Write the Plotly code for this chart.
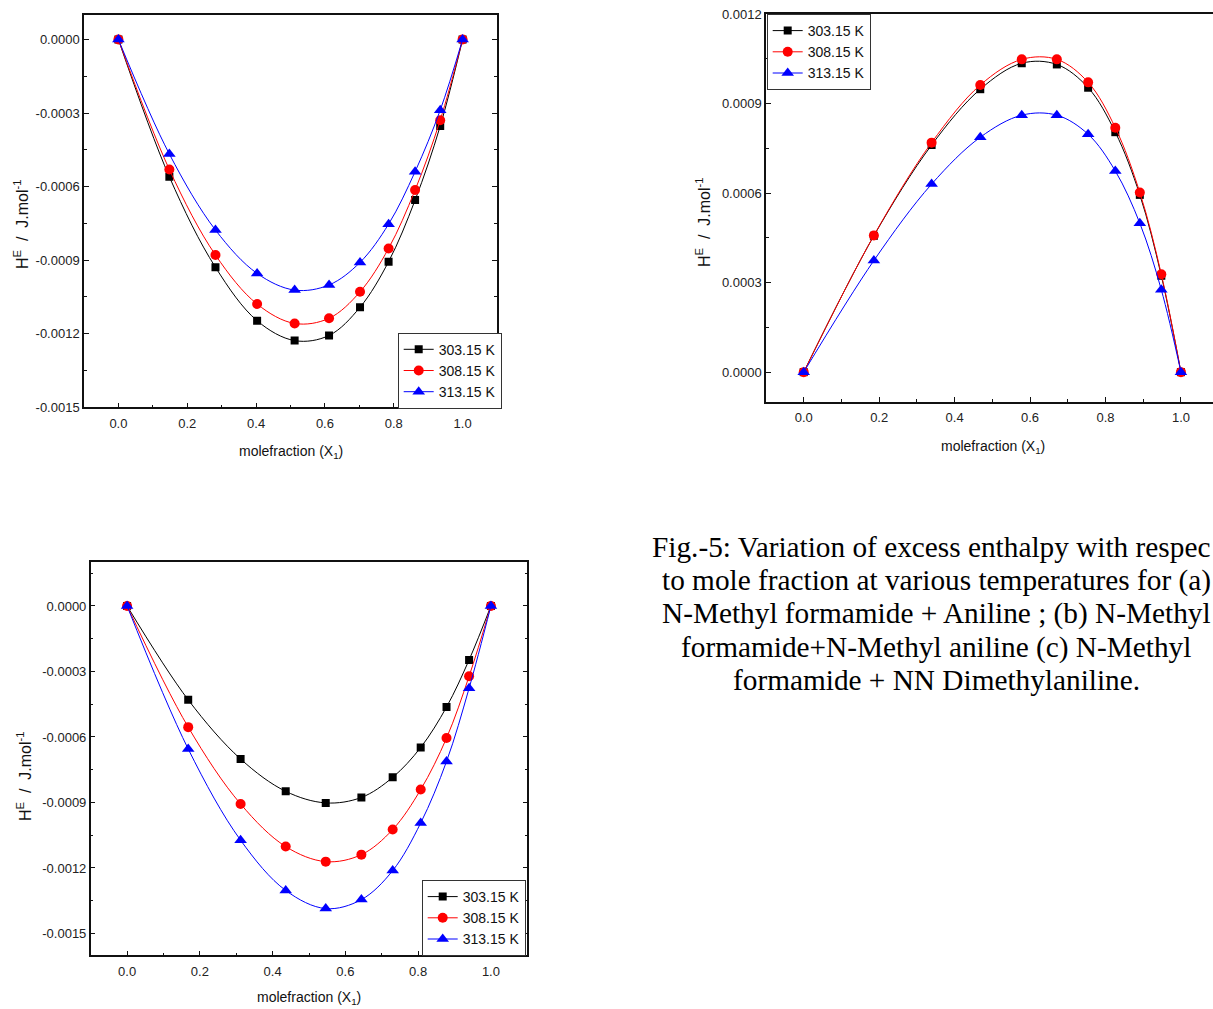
import plotly.graph_objects as go

W, H = 1213, 1009

series_names = ["303.15 K", "308.15 K", "313.15 K"]
series_colors = ["#000000", "#FF0000", "#0000FF"]
series_symbols = ["square", "circle", "triangle-up"]
series_sizes = [8, 10, 11]

# (a) N-Methyl formamide + Aniline
xa = [0.0, 0.148, 0.282, 0.403, 0.512, 0.612, 0.702, 0.785, 0.862, 0.935, 1.0]
ha_303 = [0.0, -0.000560, -0.000929, -0.001147, -0.001228, -0.001207, -0.001092, -0.000906, -0.000655, -0.000353, 0.0]
ha_308 = [0.0, -0.000530, -0.000879, -0.001079, -0.001158, -0.001137, -0.001029, -0.000852, -0.000614, -0.000329, 0.0]
ha_313 = [0.0, -0.000467, -0.000777, -0.000954, -0.001022, -0.001001, -0.000909, -0.000753, -0.000539, -0.000288, 0.0]

# (b) N-Methyl formamide + N-Methyl aniline
xb = [0.0, 0.186, 0.339, 0.468, 0.578, 0.671, 0.754, 0.826, 0.891, 0.948, 1.0]
hb_303 = [0.0, 0.000457, 0.000761, 0.000948, 0.001035, 0.001031, 0.000953, 0.000804, 0.000594, 0.000323, 0.0]
hb_308 = [0.0, 0.000458, 0.000769, 0.000962, 0.001048, 0.001048, 0.000971, 0.000819, 0.000602, 0.000328, 0.0]
hb_313 = [0.0, 0.000374, 0.000630, 0.000787, 0.000861, 0.000861, 0.000797, 0.000674, 0.000499, 0.000276, 0.0]

# (c) N-Methyl formamide + NN Dimethylaniline
xc = [0.0, 0.168, 0.312, 0.436, 0.546, 0.644, 0.730, 0.807, 0.878, 0.940, 1.0]
hc_303 = [0.0, -0.000430, -0.000701, -0.000849, -0.000902, -0.000877, -0.000785, -0.000648, -0.000463, -0.000247, 0.0]
hc_308 = [0.0, -0.000555, -0.000907, -0.001102, -0.001171, -0.001139, -0.001024, -0.000841, -0.000605, -0.000322, 0.0]
hc_313 = [0.0, -0.000655, -0.001073, -0.001303, -0.001386, -0.001345, -0.001212, -0.000994, -0.000712, -0.000377, 0.0]

x_tickvals = [0.0, 0.2, 0.4, 0.6, 0.8, 1.0]
x_ticktext = ["0.0", "0.2", "0.4", "0.6", "0.8", "1.0"]
ya_tickvals = [0.0, -0.0003, -0.0006, -0.0009, -0.0012, -0.0015]
ya_ticktext = ["0.0000", "-0.0003", "-0.0006", "-0.0009", "-0.0012", "-0.0015"]
yb_tickvals = [0.0, 0.0003, 0.0006, 0.0009, 0.0012]
yb_ticktext = ["0.0000", "0.0003", "0.0006", "0.0009", "0.0012"]
yc_tickvals = ya_tickvals
yc_ticktext = ya_ticktext

caption_lines = [
    "Fig.-5: Variation of excess enthalpy with respec",
    "to mole fraction at various temperatures for (a)",
    "N-Methyl formamide + Aniline ; (b) N-Methyl",
    "formamide+N-Methyl aniline (c) N-Methyl",
    "formamide + NN Dimethylaniline.",
]
x_title = "molefraction (X<sub>1</sub>)"
y_title = "H<sup>E</sup>&nbsp; /&nbsp; J.mol<sup>-1</sup>"

SANS = "Arial, 'Liberation Sans', sans-serif"
SERIF = "'Times New Roman', 'Liberation Serif', serif"


def px(x):
    return x / W


def py(y):
    return 1 - y / H


fig = go.Figure()

panels = [
    (xa, [ha_303, ha_308, ha_313], "x", "y", "legend"),
    (xb, [hb_303, hb_308, hb_313], "x2", "y2", "legend2"),
    (xc, [hc_303, hc_308, hc_313], "x3", "y3", "legend3"),
]
for xs, ys_list, xr, yr, lg in panels:
    for name, col, sym, sz, ys in zip(series_names, series_colors, series_symbols, series_sizes, ys_list):
        fig.add_trace(go.Scatter(
            x=xs, y=ys, name=name, mode="lines+markers",
            xaxis=xr, yaxis=yr, legend=lg,
            line=dict(color=col, width=1, shape="spline", smoothing=1.0),
            marker=dict(symbol=sym, size=sz, color=col),
        ))

axis_common = dict(
    showgrid=False, zeroline=False, showline=True, linecolor="#111", linewidth=1.5,
    ticks="inside", ticklen=5, tickwidth=1, tickcolor="#111",
    tickfont=dict(family=SANS, size=13, color="#222"),
    tickmode="array", automargin=False,
)
xminor = dict(dtick=0.1, tick0=0, ticks="inside", ticklen=3, tickcolor="#111")
yminor = dict(dtick=0.00015, tick0=0, ticks="inside", ticklen=3, tickcolor="#111")

fig.update_layout(
    width=W, height=H,
    margin=dict(l=0, r=0, t=0, b=0, autoexpand=False),
    paper_bgcolor="white", plot_bgcolor="white",
    showlegend=True,
    xaxis=dict(axis_common, domain=[px(84), px(497)], range=[-0.1, 1.1], anchor="y",
               tickvals=x_tickvals, ticktext=x_ticktext, mirror=True, ticklabelstandoff=3,
               minor=xminor),
    yaxis=dict(axis_common, domain=[py(407.3), py(15)], range=[-0.0015, 0.0001], anchor="x",
               tickvals=ya_tickvals, ticktext=ya_ticktext, mirror="ticks", minor=yminor),
    xaxis2=dict(axis_common, domain=[px(766), 1.0], range=[-0.1, 1.085], anchor="y2",
                tickvals=x_tickvals, ticktext=x_ticktext, mirror=True, ticklabelstandoff=3,
                minor=xminor),
    yaxis2=dict(axis_common, domain=[py(402), py(14)], range=[-0.0001, 0.0012], anchor="x2",
                tickvals=yb_tickvals, ticktext=yb_ticktext, mirror=False, minor=yminor),
    xaxis3=dict(axis_common, domain=[px(90.7), px(527.3)], range=[-0.1, 1.1], anchor="y3",
                tickvals=x_tickvals, ticktext=x_ticktext, mirror=True, ticklabelstandoff=3,
                minor=xminor),
    yaxis3=dict(axis_common, domain=[py(955.3), py(562.3)], range=[-0.0016, 0.0002], anchor="x3",
                tickvals=yc_tickvals, ticktext=yc_ticktext, mirror="ticks", minor=yminor),
)

legend_common = dict(
    xanchor="left", yanchor="top", bgcolor="white", bordercolor="#333", borderwidth=1,
    font=dict(family=SANS, size=14, color="#111"), tracegroupgap=0, itemwidth=30,
)
fig.update_layout(
    legend=dict(legend_common, x=px(397.7), y=py(332.7)),
    legend2=dict(legend_common, x=px(766.7), y=py(14)),
    legend3=dict(legend_common, x=px(421.7), y=py(880)),
)

annotations = []
for cx, cy in [(290.5, 452), (993, 446.5), (309, 998)]:
    annotations.append(dict(text=x_title, x=px(cx), y=py(cy), xref="paper", yref="paper",
                            showarrow=False, xanchor="center", yanchor="middle",
                            font=dict(family=SANS, size=14, color="#111")))
for cx, cy in [(21, 225), (703, 223), (24, 777)]:
    annotations.append(dict(text=y_title, x=px(cx), y=py(cy), xref="paper", yref="paper",
                            showarrow=False, xanchor="center", yanchor="middle", textangle=-90,
                            font=dict(family=SANS, size=16, color="#111")))
cap_y = [547, 580, 613.5, 647, 680]
for i, (line, yy) in enumerate(zip(caption_lines, cap_y)):
    if i == 0:
        annotations.append(dict(text=line, x=px(650), y=py(yy), xref="paper", yref="paper",
                                showarrow=False, xanchor="left", yanchor="middle",
                                font=dict(family=SERIF, size=29.3, color="#000")))
    else:
        annotations.append(dict(text=line, x=px(936), y=py(yy), xref="paper", yref="paper",
                                showarrow=False, xanchor="center", yanchor="middle",
                                font=dict(family=SERIF, size=29.3, color="#000")))
fig.update_layout(annotations=annotations)

fig.write_html("out.html")
